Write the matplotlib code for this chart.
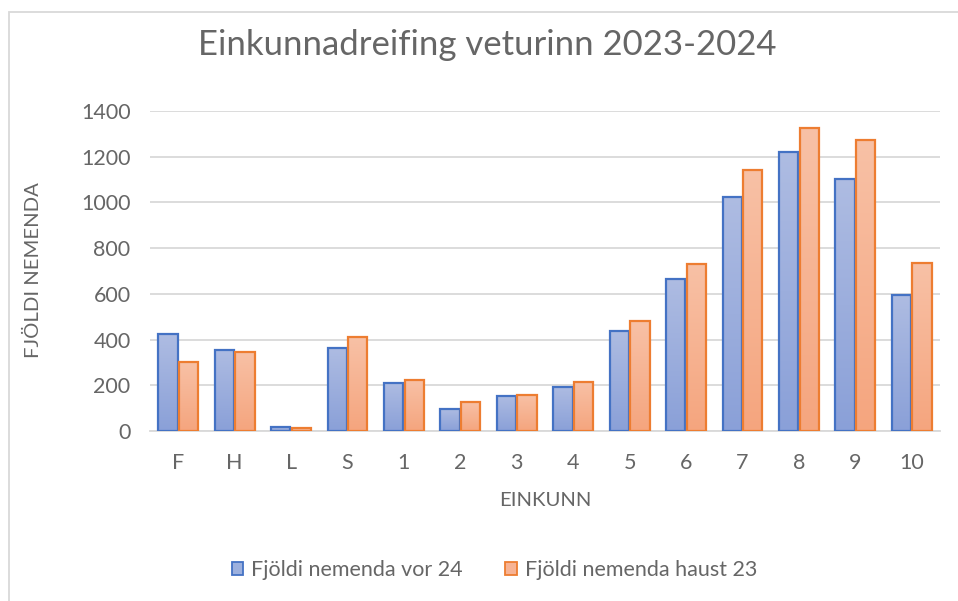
import matplotlib
matplotlib.use("Agg")
import matplotlib.pyplot as plt
import numpy as np
from matplotlib.patches import Rectangle, Patch
from matplotlib.colors import LinearSegmentedColormap

categories = ["F", "H", "L", "S", "1", "2", "3", "4", "5", "6", "7", "8", "9", "10"]
vor24 = [423, 356, 20, 363, 212, 99, 154, 195, 440, 664, 1022, 1219, 1103, 594]
haust23 = [302, 346, 13, 410, 225, 126, 160, 215, 482, 731, 1140, 1323, 1270, 733]
series_names = ["Fjöldi nemenda vor 24", "Fjöldi nemenda haust 23"]
title = "Einkunnadreifing veturinn 2023-2024"
xlabel = "EINKUNN"
ylabel = "FJÖLDI NEMENDA"
yticks = [0, 200, 400, 600, 800, 1000, 1200, 1400]

plt.rcParams['font.family'] = ['Lato', 'DejaVu Sans']
gray = "#666666"

fig = plt.figure(figsize=(9.58, 6.01), dpi=100)
ax = fig.add_axes([0.1566, 0.2824, 0.8246, 0.5334])

x = np.arange(len(categories))
w = 0.34
gap = 0.025
blue_edge = "#4472c4"
orange_edge = "#ed7d31"
blue_cmap = LinearSegmentedColormap.from_list("b", ["#8aa0d8", "#aebce2"])
orange_cmap = LinearSegmentedColormap.from_list("o", ["#f5a57e", "#f8c1a6"])

bars1 = ax.bar(x - w/2 - gap/2, vor24, w, facecolor="none", edgecolor=blue_edge, linewidth=1.6, zorder=3)
bars2 = ax.bar(x + w/2 + gap/2, haust23, w, facecolor="none", edgecolor=orange_edge, linewidth=1.6, zorder=3)

grad = np.linspace(0, 1, 256).reshape(-1, 1)
for bars, cmap in ((bars1, blue_cmap), (bars2, orange_cmap)):
    for b in bars:
        x0, y0 = b.get_x(), b.get_y()
        bw, bh = b.get_width(), b.get_height()
        im = ax.imshow(grad, cmap=cmap, origin="lower", aspect="auto",
                       extent=(x0, x0 + bw, y0, y0 + bh), zorder=2)
        im.set_clip_path(b)

ax.set_xlim(-0.5, len(categories) - 0.5)
ax.set_ylim(0, 1400)
ax.set_yticks(yticks)
ax.set_xticks(x)
ax.set_xticklabels(categories)
ax.yaxis.grid(True, color="#d9d9d9", linewidth=1.3, zorder=0)
ax.set_axisbelow(True)
for s in ["top", "right", "left"]:
    ax.spines[s].set_visible(False)
ax.spines["bottom"].set_color("#d9d9d9")
ax.spines["bottom"].set_linewidth(1.3)
ax.tick_params(axis="both", length=0, colors=gray, labelsize=15.5)
ax.tick_params(axis="x", pad=16)
ax.tick_params(axis="y", pad=14)

fig.text(0.509, 0.925, title, ha="center", va="center", fontsize=25, color=gray)
fig.text(0.569, 0.168, xlabel, ha="center", va="center", fontsize=14.6, color=gray)
fig.text(0.035, 0.551, ylabel, ha="center", va="center", fontsize=14.6, color=gray, rotation=90)

handles = [Patch(facecolor="#9cb0de", edgecolor=blue_edge, linewidth=1.3),
           Patch(facecolor="#f7b394", edgecolor=orange_edge, linewidth=1.3)]
fig.legend(handles, series_names, loc="center", bbox_to_anchor=(0.516, 0.052), ncol=2,
           frameon=False, fontsize=15.5, labelcolor=gray, handlelength=0.55, handleheight=0.55,
           handletextpad=0.37, columnspacing=1.95)

fig.patches.append(Rectangle((9/958, -0.1), 1.2, 1 - 12/601 + 0.1, transform=fig.transFigure,
                             fill=False, edgecolor="#d9d9d9", linewidth=1.3))

fig.savefig("out.png", dpi=100)
